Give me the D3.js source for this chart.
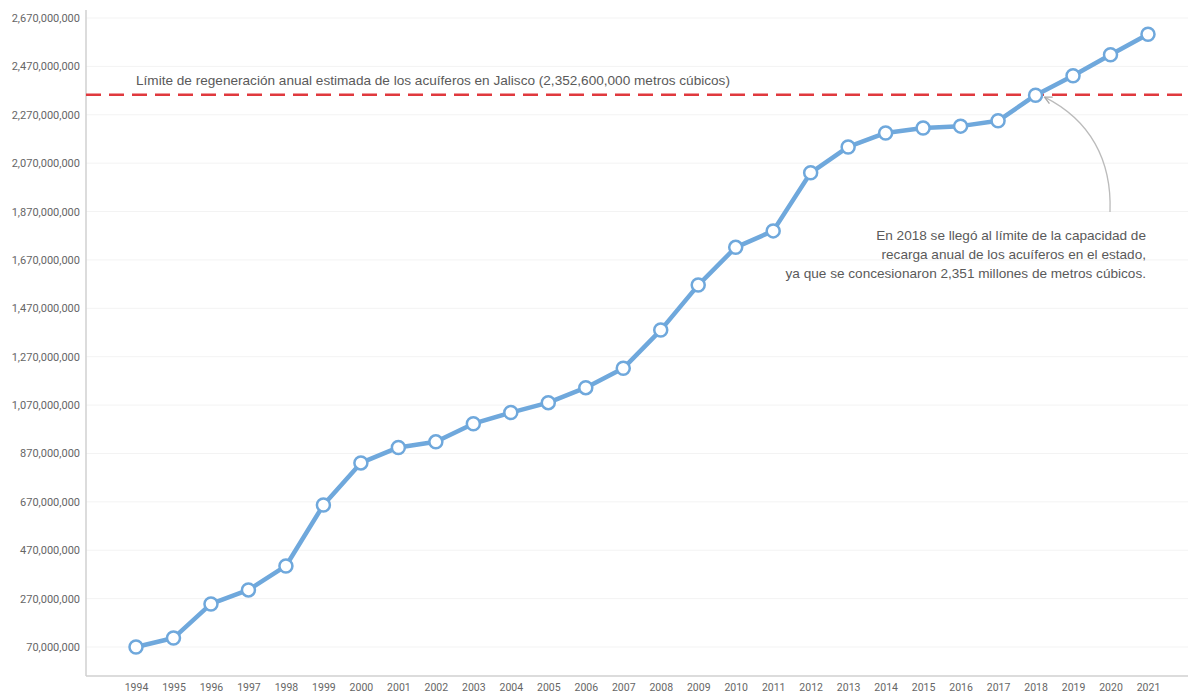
<!DOCTYPE html>
<html>
<head>
<meta charset="utf-8">
<script src="https://cdn.jsdelivr.net/npm/d3@7"></script>
<style>
  body { margin: 0; background: #fff; font-family: Roboto, "Liberation Sans", Arial, sans-serif; }
  .tick text { fill: #666; }
  .note { font-family: "Liberation Sans", Arial, sans-serif; }
</style>
</head>
<body>
<div id="chart"></div>
<script>
// datos: volumen concesionado en Jalisco (m3)
var years = [1994, 1995, 1996, 1997, 1998, 1999, 2000, 2001, 2002, 2003, 2004, 2005, 2006, 2007,
             2008, 2009, 2010, 2011, 2012, 2013, 2014, 2015, 2016, 2017, 2018, 2019, 2020, 2021];
var volumes = [70e6, 107e6, 248e6, 306e6, 405e6, 657e6, 831e6, 895e6, 918e6, 993e6, 1039e6, 1080e6,
               1142e6, 1222e6, 1380e6, 1566e6, 1722e6, 1790e6, 2030e6, 2137e6, 2195e6, 2215e6, 2223e6,
               2245e6, 2351e6, 2431e6, 2518e6, 2603e6];
var yTicks = [70e6, 270e6, 470e6, 670e6, 870e6, 1070e6, 1270e6, 1470e6, 1670e6, 1870e6, 2070e6,
              2270e6, 2470e6, 2670e6];
var limit = 2352600000;
var limitLabel = "Límite de regeneración anual estimada de los acuíferos en Jalisco (2,352,600,000 metros cúbicos)";
var noteLines = ["En 2018 se llegó al límite de la capacidad de",
                 "recarga anual de los acuíferos en el estado,",
                 "ya que se concesionaron 2,351 millones de metros cúbicos."];

var width = 1188, height = 694;
var margin = {left: 86, right: 0, top: 0, bottom: 18};

var svg = d3.select("#chart").append("svg")
    .attr("width", width)
    .attr("height", height);

var x = d3.scalePoint().domain(years).range([136, 1148]);
var y = d3.scaleLinear().domain([70e6, 2670e6]).range([647, 18]);

// grid
svg.append("g").selectAll("line")
    .data(yTicks)
    .enter().append("line")
    .attr("x1", margin.left).attr("x2", width)
    .attr("y1", function (d) { return y(d); })
    .attr("y2", function (d) { return y(d); })
    .attr("stroke", "#f3f3f3")
    .attr("stroke-width", 1);

var fmt = d3.format(",");

var yAxis = svg.append("g")
    .attr("transform", "translate(" + margin.left + ",0)")
    .call(d3.axisLeft(y).tickValues(yTicks).tickFormat(fmt).tickSize(0).tickPadding(6));
yAxis.select(".domain").remove();
yAxis.selectAll("text").style("font-size", "11px").style("font-family", "Roboto, sans-serif");

svg.append("line")
    .attr("x1", margin.left).attr("x2", margin.left)
    .attr("y1", 10).attr("y2", 676)
    .attr("stroke", "#d0d0d0").attr("stroke-width", 1.5);

var xAxis = svg.append("g")
    .attr("transform", "translate(0,676)")
    .call(d3.axisBottom(x).tickSize(0).tickPadding(8).tickFormat(d3.format("d")));
xAxis.select(".domain").remove();
xAxis.selectAll("text").style("font-size", "10.5px").style("font-family", "Roboto, sans-serif");

svg.append("line")
    .attr("x1", margin.left).attr("x2", width)
    .attr("y1", 676).attr("y2", 676)
    .attr("stroke", "#d0d0d0").attr("stroke-width", 1.5);

// límite
svg.append("line")
    .attr("x1", margin.left).attr("x2", width)
    .attr("y1", y(limit)).attr("y2", y(limit))
    .attr("stroke", "#e0393e")
    .attr("stroke-width", 2.5)
    .attr("stroke-dasharray", "15,8");

svg.append("text")
    .attr("class", "note")
    .attr("x", 136).attr("y", y(limit) - 10)
    .attr("fill", "#5a5a5a")
    .style("font-size", "13.6px")
    .text(limitLabel);

// serie
var line = d3.line()
    .x(function (d, i) { return x(years[i]); })
    .y(function (d) { return y(d); });

svg.append("path")
    .datum(volumes)
    .attr("d", line)
    .attr("fill", "none")
    .attr("stroke", "#6fa8dc")
    .attr("stroke-width", 4.5)
    .attr("stroke-linejoin", "round");

svg.append("g").selectAll("circle")
    .data(volumes)
    .enter().append("circle")
    .attr("cx", function (d, i) { return x(years[i]); })
    .attr("cy", function (d) { return y(d); })
    .attr("r", 6.5)
    .attr("fill", "#fff")
    .attr("stroke", "#6fa8dc")
    .attr("stroke-width", 2.5);

// anotación
svg.append("defs").append("marker")
    .attr("id", "arrow")
    .attr("viewBox", "0 0 10 10")
    .attr("refX", 9).attr("refY", 5)
    .attr("markerWidth", 7).attr("markerHeight", 7)
    .attr("orient", "auto")
    .append("path")
    .attr("d", "M1,1 L9,5 L1,9")
    .attr("fill", "none")
    .attr("stroke", "#aaa")
    .attr("stroke-width", 1.5);

var x18 = x(2018), y18 = y(volumes[years.indexOf(2018)]);
svg.append("path")
    .attr("d", "M1110,212 C1112,160 1090,120 " + (x18 + 9) + "," + (y18 + 2))
    .attr("fill", "none")
    .attr("stroke", "#bbb")
    .attr("stroke-width", 1.3)
    .attr("marker-end", "url(#arrow)");

svg.append("g").selectAll("text")
    .data(noteLines)
    .enter().append("text")
    .attr("class", "note")
    .attr("x", 1146)
    .attr("y", function (d, i) { return 240 + i * 19; })
    .attr("text-anchor", "end")
    .attr("fill", "#5a5a5a")
    .style("font-size", "13.6px")
    .text(function (d) { return d; });
</script>
</body>
</html>
